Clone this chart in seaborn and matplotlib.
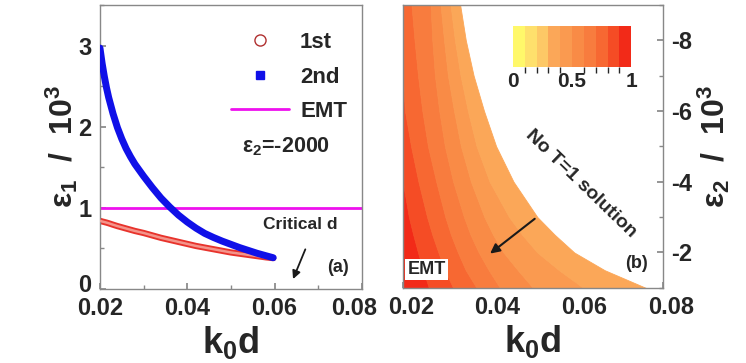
import numpy as np
import matplotlib
matplotlib.use("Agg")
import matplotlib.pyplot as plt
import matplotlib.transforms as mtransforms
import seaborn as sns
from matplotlib.lines import Line2D
from matplotlib.colors import ListedColormap, BoundaryNorm
from matplotlib.cm import ScalarMappable
from matplotlib.ticker import MultipleLocator

# ---- panel (a): eps1 solutions vs k0d (eps2 = -2000) ----
k0d = [0.020, 0.0205, 0.021, 0.0215, 0.022, 0.023, 0.024, 0.025, 0.026, 0.027, 0.028,
       0.030, 0.032, 0.034, 0.036, 0.038, 0.040, 0.042, 0.044, 0.046, 0.048,
       0.050, 0.052, 0.054, 0.056, 0.058, 0.0597]
eps1_2nd = [2.97, 2.78, 2.62, 2.48, 2.36, 2.16, 1.99, 1.85, 1.73, 1.63, 1.54,
            1.39, 1.25, 1.12, 1.01, 0.91, 0.825, 0.75, 0.685, 0.635, 0.59,
            0.55, 0.51, 0.475, 0.44, 0.41, 0.385]
eps1_1st = [0.84, 0.832, 0.825, 0.818, 0.81, 0.792, 0.775, 0.76, 0.745, 0.73, 0.715,
            0.69, 0.66, 0.63, 0.605, 0.58, 0.555, 0.53, 0.51, 0.49, 0.47,
            0.45, 0.435, 0.42, 0.405, 0.39, 0.38]
eps1_emt = 1.0

# ---- panel (b): band edges of the T=1 map (k0d at each eps2 level) ----
eps2_levels = [-1, -1.5, -2, -2.5, -3, -4, -5, -6, -7, -8, -9]
edge_left = [0.02] * len(eps2_levels)
edge_09 = [0.0260, 0.0247, 0.0235, 0.0224, 0.0214, 0.0200, 0.0200, 0.0200, 0.0200, 0.0200, 0.0200]
edge_08 = [0.0316, 0.0297, 0.0282, 0.0268, 0.0256, 0.0236, 0.0219, 0.0205, 0.0200, 0.0200, 0.0200]
edge_07 = [0.0370, 0.0345, 0.0327, 0.0311, 0.0298, 0.0277, 0.0258, 0.0245, 0.0235, 0.0227, 0.0220]
edge_06 = [0.0424, 0.0398, 0.0375, 0.0356, 0.0341, 0.0316, 0.0297, 0.0284, 0.0274, 0.0268, 0.0264]
edge_05 = [0.0500, 0.0465, 0.0432, 0.0408, 0.0388, 0.0357, 0.0334, 0.0318, 0.0304, 0.0295, 0.0287]
edge_04 = [0.0616, 0.0560, 0.0510, 0.0475, 0.0445, 0.0400, 0.0370, 0.0350, 0.0333, 0.0320, 0.0310]
critical = [0.0760, 0.0665, 0.0595, 0.0550, 0.0510, 0.0455, 0.0415, 0.0387, 0.0363, 0.0345, 0.0332]
band_values = [0.95, 0.85, 0.75, 0.65, 0.55, 0.45, 0.35]

cbar_colors = ['#fff86a', '#fee06c', '#fdc866', '#fba758', '#fa9a50',
               '#f98b46', '#f87c3e', '#f76832', '#f54c25', '#f22a18']

sns.set_theme(style="ticks")
plt.rcParams['font.family'] = ['Liberation Sans', 'DejaVu Sans']
plt.rcParams['font.weight'] = 'bold'
plt.rcParams['axes.labelweight'] = 'bold'
plt.rcParams['axes.unicode_minus'] = False
plt.rcParams['mathtext.fontset'] = 'custom'
plt.rcParams['mathtext.rm'] = 'Liberation Sans:bold'
plt.rcParams['mathtext.bf'] = 'Liberation Sans:bold'
plt.rcParams['mathtext.it'] = 'Liberation Sans:bold'
plt.rcParams['mathtext.default'] = 'bf'

fig = plt.figure(figsize=(7.46, 3.63), dpi=100)
ax1 = fig.add_axes([0.134, 0.204, 0.351, 0.782])
ax2 = fig.add_axes([0.540, 0.207, 0.349, 0.780])

def style_axes(ax):
    for s in ax.spines.values():
        s.set_color('#888888')
        s.set_linewidth(1.0)
    ax.tick_params(which='both', direction='in', color='#888888', labelsize=17, pad=6)
    ax.tick_params(which='major', length=4)
    ax.tick_params(which='minor', length=3)
    for lab in ax.get_xticklabels() + ax.get_yticklabels():
        lab.set_fontweight('bold')

def shift_label(lab, dx_px, dy_px=0):
    lab.set_transform(lab.get_transform() +
                      mtransforms.ScaledTranslation(dx_px / 100, dy_px / 100, fig.dpi_scale_trans))

# panel (a)
ax1.axhline(eps1_emt, color='#ee11ee', lw=2, zorder=1)
sns.lineplot(x=k0d, y=eps1_1st, ax=ax1, color='#e8332c', lw=4.5, zorder=2)
sns.lineplot(x=k0d, y=eps1_1st, ax=ax1, color='#f4948a', lw=1.8, zorder=3)
sns.lineplot(x=k0d, y=eps1_2nd, ax=ax1, color='#1010e8', lw=5, zorder=4)
ax1.set_xlim(0.02, 0.08)
ax1.set_ylim(0, 3.5)
ax1.set_xticks([0.02, 0.04, 0.06, 0.08])
ax1.set_xticklabels(['0.02', '0.04', '0.06', '0.08'])
ax1.xaxis.set_minor_locator(MultipleLocator(0.01))
ax1.set_yticks([0, 1, 2, 3])
ax1.yaxis.set_minor_locator(MultipleLocator(0.5))
ax1.set_xlabel('k$_0$d', fontsize=26, labelpad=3)
ax1.set_ylabel('ε$_1$  /  10$^3$', fontsize=23, labelpad=-1)
style_axes(ax1)
shift_label(ax1.get_xticklabels()[-1], -8)
shift_label(ax1.get_yticklabels()[0], 0, 6)

handles = [
    Line2D([], [], marker='o', ls='none', mfc='white', mec='#b03030', ms=8, mew=1),
    Line2D([], [], marker='s', ls='none', color='#1010e8', ms=6),
    Line2D([], [], color='#ee11ee', lw=2),
]
ax1.legend(handles, ['1st', '2nd', 'EMT'], loc='upper right', bbox_to_anchor=(1.02, 0.975),
           frameon=False, prop={'size': 16, 'weight': 'bold'}, handlelength=2.6,
           labelspacing=0.6, handletextpad=0.5)
ax1.text(0.0525, 1.75, 'ε$_2$=-2000', fontsize=15.5, fontweight='bold', ha='left', va='center')
ax1.text(0.0660, 0.79, 'Critical d', fontsize=12.5, fontweight='bold', ha='center', va='center')
ax1.annotate('', xy=(0.0640, 0.09), xytext=(0.0673, 0.52),
             arrowprops=dict(arrowstyle='-|>', color='k', lw=1.3, mutation_scale=12))
ax1.text(0.0745, 0.26, '(a)', fontsize=13, fontweight='bold', ha='center', va='center')

# panel (b)
cmap = ListedColormap(cbar_colors)
norm = BoundaryNorm(np.linspace(0, 1, 11), cmap.N)
edges = [edge_left, edge_09, edge_08, edge_07, edge_06, edge_05, edge_04, critical]
for k, val in enumerate(band_values):
    c = cmap(norm(val))
    ax2.fill_betweenx(eps2_levels, edges[k], edges[k + 1], facecolor=c, edgecolor=c, lw=0.6)
ax2.set_xlim(0.02, 0.08)
ax2.set_ylim(-1, -9)
ax2.set_xticks([0.02, 0.04, 0.06, 0.08])
ax2.set_xticklabels(['0.02', '0.04', '0.06', '0.08'])
ax2.xaxis.set_minor_locator(MultipleLocator(0.01))
ax2.set_yticks([-8, -6, -4, -2])
ax2.yaxis.set_minor_locator(MultipleLocator(1))
ax2.yaxis.tick_right()
ax2.yaxis.set_label_position('right')
ax2.set_xlabel('k$_0$d', fontsize=26, labelpad=3)
ax2.set_ylabel('ε$_2$  /  10$^3$', fontsize=23, labelpad=2, rotation=90)
style_axes(ax2)
for lab in ax2.get_xticklabels():
    shift_label(lab, 8)

ax2.text(0.0610, -3.95, 'No T=1 solution', fontsize=14, fontweight='bold', rotation=-44,
         ha='center', va='center', rotation_mode='anchor')
ax2.annotate('', xy=(0.0396, -1.92), xytext=(0.0509, -3.0),
             arrowprops=dict(arrowstyle='-|>', color='k', lw=1.5, mutation_scale=14))
ax2.text(0.0255, -1.52, 'EMT', fontsize=13, fontweight='bold', ha='center', va='center',
         bbox=dict(facecolor='white', edgecolor='none', pad=1.5))
ax2.text(0.0738, -1.69, '(b)', fontsize=13, fontweight='bold', ha='center', va='center')

cax = ax2.inset_axes([0.423, 0.781, 0.454, 0.145])
cb = fig.colorbar(ScalarMappable(norm=norm, cmap=cmap), cax=cax, orientation='horizontal',
                  ticks=[0, 0.5, 1])
cb.outline.set_visible(False)
cb.ax.tick_params(length=0, labelsize=15, pad=4)
cb.ax.set_xticklabels(['0', '0.5', '1'], fontweight='bold')

fig.savefig('out.png', dpi=100)
